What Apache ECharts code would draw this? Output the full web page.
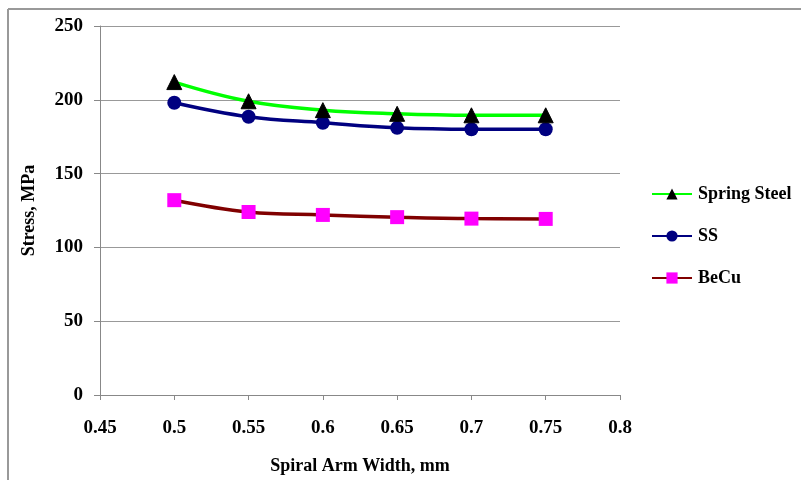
<!DOCTYPE html>
<html>
<head>
<meta charset="utf-8">
<script src="https://cdn.jsdelivr.net/npm/echarts@6/dist/echarts.min.js"></script>
<style>
  body { margin: 0; background: #fff; }
  #main { width: 801px; height: 480px; }
</style>
</head>
<body>
<div id="main"></div>
<script>
  // data
  var widths = [0.5, 0.55, 0.6, 0.65, 0.7, 0.75];
  var springSteel = [212, 199, 193, 190.5, 189.5, 189.5];
  var ss = [198, 188.5, 184.5, 181, 180, 180];
  var beCu = [132, 124, 122, 120.5, 119.5, 119.3];
  var xTicks = [0.45, 0.5, 0.55, 0.6, 0.65, 0.7, 0.75, 0.8];

  function pairs(vals) {
    return widths.map(function (w, i) { return [w, vals[i]]; });
  }

  var font = "'Liberation Serif', 'Times New Roman', serif";

  var myChart = echarts.init(document.getElementById("main"));

  myChart.setOption({
    animation: false,
    backgroundColor: "#fff",
    textStyle: { fontFamily: font },
    grid: { left: 100, right: 181, top: 26, bottom: 84 },
    graphic: [
      { type: "line", shape: { x1: 8, y1: 9, x2: 801, y2: 9 }, style: { stroke: "#999", lineWidth: 2 } },
      { type: "line", shape: { x1: 8, y1: 9, x2: 8, y2: 480 }, style: { stroke: "#999", lineWidth: 2 } }
    ],
    legend: {
      orient: "vertical",
      left: 646,
      top: 180,
      itemGap: 24,
      itemWidth: 40,
      itemHeight: 14,
      textStyle: { fontFamily: font, fontWeight: "bold", fontSize: 18, color: "#000", padding: [0, 0, 0, 1] },
      data: ["Spring Steel", "SS", "BeCu"]
    },
    xAxis: {
      type: "value",
      min: 0.45,
      max: 0.8,
      interval: 0.05,
      name: "Spiral Arm Width, mm",
      nameLocation: "middle",
      nameGap: 62,
      nameTextStyle: { fontFamily: font, fontWeight: "bold", fontSize: 18, color: "#000" },
      axisLine: { show: true, lineStyle: { color: "#888" } },
      axisTick: { show: true, length: 5, lineStyle: { color: "#888" } },
      splitLine: { show: false },
      axisLabel: {
        margin: 24,
        fontFamily: font, fontWeight: "bold", fontSize: 19, color: "#000",
        formatter: function (v) {
          var r = Math.round(v * 100) / 100;
          return xTicks.indexOf(r) >= 0 ? String(r) : "";
        }
      }
    },
    yAxis: {
      type: "value",
      min: 0,
      max: 250,
      interval: 50,
      name: "Stress, MPa",
      nameLocation: "middle",
      nameGap: 62,
      nameTextStyle: { fontFamily: font, fontWeight: "bold", fontSize: 18, color: "#000" },
      axisLine: { show: true, lineStyle: { color: "#888" } },
      axisTick: { show: true, length: 6, lineStyle: { color: "#888" } },
      splitLine: { show: true, lineStyle: { color: "#999" } },
      axisLabel: { margin: 17, fontFamily: font, fontWeight: "bold", fontSize: 19, color: "#000" }
    },
    series: [
      {
        name: "Spring Steel",
        type: "line",
        smooth: 0.4,
        data: pairs(springSteel),
        symbol: "triangle",
        symbolSize: 15,
        lineStyle: { color: "#00ff00", width: 3.5 },
        itemStyle: { color: "#000", borderColor: "#000" },
        color: "#00ff00",
        z: 3
      },
      {
        name: "SS",
        type: "line",
        smooth: 0.4,
        data: pairs(ss),
        symbol: "circle",
        symbolSize: 14,
        lineStyle: { color: "#000080", width: 3.5 },
        itemStyle: { color: "#000080" },
        z: 2
      },
      {
        name: "BeCu",
        type: "line",
        smooth: 0.4,
        data: pairs(beCu),
        symbol: "rect",
        symbolSize: 14,
        lineStyle: { color: "#800000", width: 3.5 },
        itemStyle: { color: "#ff00ff" },
        z: 2
      }
    ]
  });
</script>
</body>
</html>
